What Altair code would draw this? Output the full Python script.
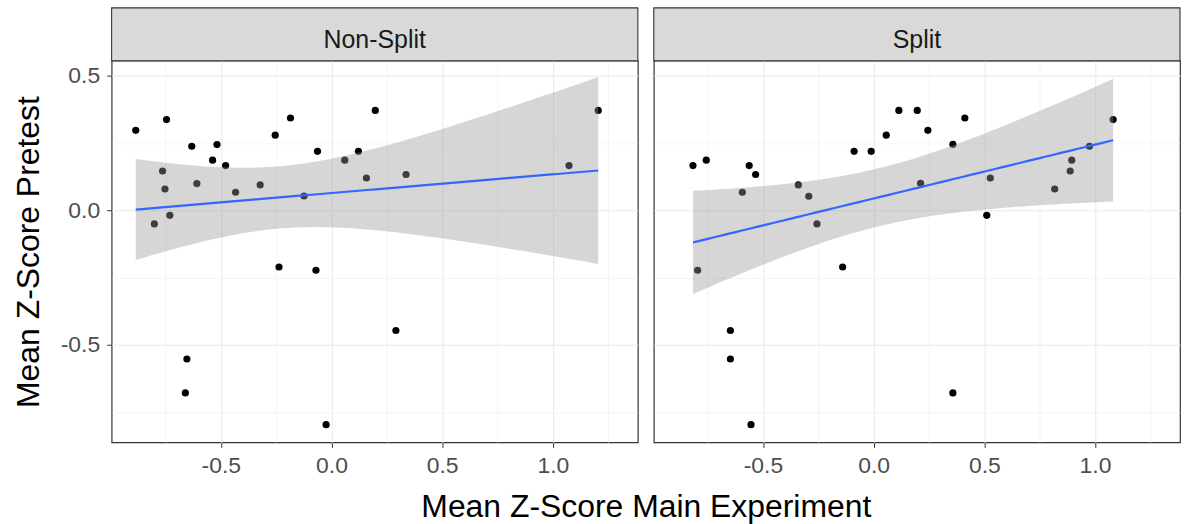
import numpy as np
import pandas as pd
import altair as alt

# Facet labels
panels = ["Non-Split", "Split"]

# Mean z-score in the main experiment (x) and in the pretest (y), one list per panel
nonsplit_main = [-0.884, -0.745, -0.631, -0.517, -0.537, -0.478, -0.763, -0.752, -0.608, -0.433,
                 -0.322, -0.254, -0.185, -0.124, -0.063, 0.060, 0.122, 0.158, 0.198, 0.337,
                 1.073, 1.205, -0.800, -0.730, -0.237, -0.070, 0.291, -0.653, -0.660, -0.024]
nonsplit_pre = [0.297, 0.337, 0.238, 0.244, 0.186, 0.166, 0.146, 0.079, 0.099, 0.067,
                0.094, 0.279, 0.343, 0.053, 0.219, 0.186, 0.219, 0.120, 0.371, 0.133,
                0.166, 0.371, -0.051, -0.019, -0.211, -0.223, -0.447, -0.553, -0.679, -0.797]

split_main = [-0.816, -0.756, -0.562, -0.533, -0.593, -0.340, -0.293, -0.256, -0.088, -0.011,
              0.057, 0.114, 0.197, 0.245, 0.212, 0.358, 0.412, 0.527, 0.511, 0.818,
              0.888, 0.895, 0.975, 1.082, -0.795, -0.140, -0.647, -0.647, 0.358, -0.554]
split_pre = [0.166, 0.186, 0.166, 0.133, 0.067, 0.094, 0.052, -0.051, 0.219, 0.219,
             0.279, 0.371, 0.371, 0.297, 0.100, 0.245, 0.343, 0.120, -0.019, 0.079,
             0.146, 0.186, 0.238, 0.337, -0.223, -0.211, -0.447, -0.553, -0.679, -0.797]

# Axis tick positions (major ticks every 0.5, minor grid lines in between)
x_ticks = [-0.75, -0.5, -0.25, 0.0, 0.25, 0.5, 0.75, 1.0, 1.25]
y_ticks = [-0.75, -0.5, -0.25, 0.0, 0.25, 0.5]

X_DOMAIN = [-0.993, 1.384]
Y_DOMAIN = [-0.863, 0.556]

W, H = 528, 383          # size of each panel
STRIP = 53               # height of the facet strip
T975 = 2.048             # t quantile, 95% interval, 28 degrees of freedom
FONT = "Liberation Sans"


def linear_fit(xs, ys, n_grid=80):
    """Least-squares line with its 95% confidence band over the data range."""
    x = np.asarray(xs, float)
    y = np.asarray(ys, float)
    n = len(x)
    xbar, ybar = x.mean(), y.mean()
    sxx = ((x - xbar) ** 2).sum()
    slope = ((x - xbar) * (y - ybar)).sum() / sxx
    icpt = ybar - slope * xbar
    resid = y - (icpt + slope * x)
    s = np.sqrt((resid ** 2).sum() / (n - 2))
    gx = np.linspace(x.min(), x.max(), n_grid)
    fit = icpt + slope * gx
    se = s * np.sqrt(1.0 / n + (gx - xbar) ** 2 / sxx)
    return pd.DataFrame({"main": gx, "fit": fit,
                         "lo": fit - T975 * se, "hi": fit + T975 * se})


MAJOR = "abs(datum.value*2 - round(datum.value*2)) < 0.001"
LABEL = (f"{MAJOR} ? (datum.value < 0 ? '-' : '') + format(abs(datum.value), '.1f') : ''")
GRID_W = {"condition": {"test": MAJOR, "value": 1.1}, "value": 0.55}
TICK_OP = {"condition": {"test": MAJOR, "value": 1}, "value": 0}


def panel(name, xs, ys, first):
    pts = pd.DataFrame({"main": xs, "pre": ys})
    band = linear_fit(xs, ys)
    strip = pd.DataFrame({"panel": [name]})

    if first:
        x_axis = alt.Axis(values=x_ticks, labelExpr=LABEL, gridWidth=GRID_W,
                          tickOpacity=TICK_OP, title="Mean Z-Score Main Experiment",
                          titleX=W + 8, titleY=74, titleAlign="center",
                          titleBaseline="alphabetic")
        y_axis = alt.Axis(values=y_ticks, labelExpr=LABEL, gridWidth=GRID_W,
                          tickOpacity=TICK_OP, title="Mean Z-Score Pretest",
                          titleAngle=270, titleX=-73, titleY=H / 2,
                          titleAlign="center", titleBaseline="alphabetic")
    else:
        x_axis = alt.Axis(values=x_ticks, labelExpr=LABEL, gridWidth=GRID_W,
                          tickOpacity=TICK_OP, title=None)
        y_axis = alt.Axis(values=y_ticks, gridWidth=GRID_W, labels=False,
                          ticks=False, title=None)

    xs_ = alt.Scale(domain=X_DOMAIN, nice=False, zero=False)
    ys_ = alt.Scale(domain=Y_DOMAIN, nice=False, zero=False)

    points = alt.Chart(pts).mark_circle(size=52, color="black", opacity=1).encode(
        x=alt.X("main:Q", scale=xs_, axis=x_axis),
        y=alt.Y("pre:Q", scale=ys_, axis=y_axis),
    )
    ribbon = alt.Chart(band).mark_area(color="#999999", opacity=0.4).encode(
        x=alt.X("main:Q", scale=xs_),
        y=alt.Y("lo:Q", scale=ys_),
        y2="hi:Q",
    )
    line = alt.Chart(band).mark_line(color="#3366FF", strokeWidth=2.2).encode(
        x=alt.X("main:Q", scale=xs_),
        y=alt.Y("fit:Q", scale=ys_),
    )
    strip_box = alt.Chart(strip).mark_rect(fill="#D9D9D9", stroke="#333333",
                                           strokeWidth=1.1).encode(
        x=alt.value(0), x2=alt.value(W), y=alt.value(-STRIP), y2=alt.value(0),
    )
    strip_text = alt.Chart(strip).mark_text(font=FONT, fontSize=25, color="#1A1A1A",
                                            align="center", baseline="alphabetic").encode(
        x=alt.value(W / 2), y=alt.value(-13), text="panel:N",
    )
    return alt.layer(points, ribbon, line, strip_box, strip_text).properties(width=W, height=H)


chart = alt.hconcat(
    panel(panels[0], nonsplit_main, nonsplit_pre, True),
    panel(panels[1], split_main, split_pre, False),
    spacing=16, bounds="flush",
).properties(
    padding={"left": 12, "top": 5, "right": 2, "bottom": 3},
    background="white",
).configure_view(
    stroke="#333333", strokeWidth=1.2,
).configure_axis(
    domain=False, gridColor="#EBEBEB", tickColor="#333333", tickSize=5,
    labelFont=FONT, labelFontSize=23, labelColor="#4D4D4D", labelPadding=7,
    titleFont=FONT, titleFontSize=32, titleColor="black", titleFontWeight="normal",
)

chart.save("out.html", embed_options={"renderer": "svg", "actions": False})
